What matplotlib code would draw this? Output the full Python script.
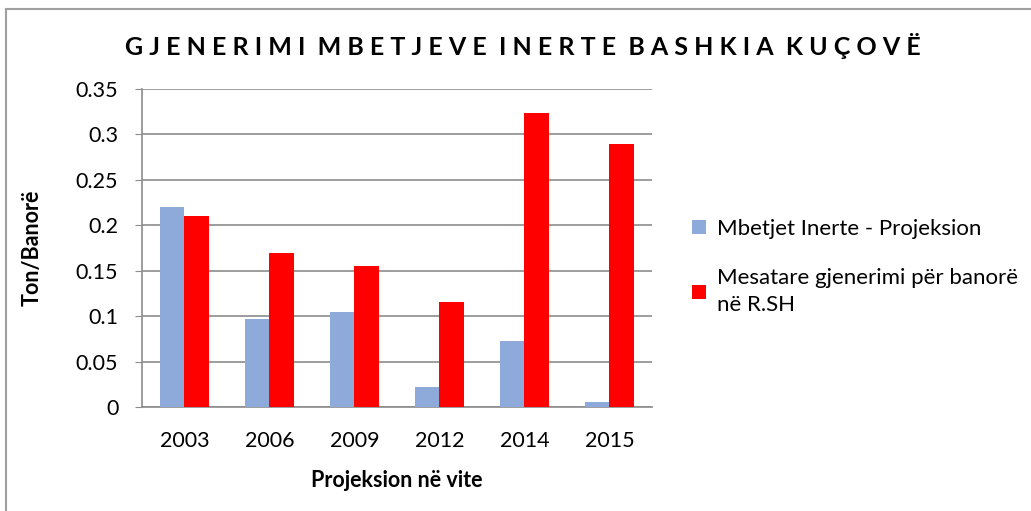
import numpy as np
import matplotlib.pyplot as plt
from matplotlib.lines import Line2D
from matplotlib.ticker import FuncFormatter

plt.rcParams['font.family'] = ['Lato', 'DejaVu Sans']

years = ['2003', '2006', '2009', '2012', '2014', '2015']
inerte = [0.220, 0.097, 0.105, 0.022, 0.073, 0.005]
mesatare = [0.210, 0.169, 0.155, 0.115, 0.323, 0.289]

names = ['Mbetjet Inerte - Projeksion', 'Mesatare gjenerimi për banorë\nnë R.SH']
colors = ['#8EAADB', '#FF0000']

fig = plt.figure(figsize=(10.31, 5.11), dpi=100)
ax = fig.add_axes([0.1377, 0.2035, 0.4946, 0.6225])

x = np.arange(len(years))
w = 1 / 3.5
ax.bar(x - w / 2, inerte, w, color=colors[0], label=names[0], zorder=3)
ax.bar(x + w / 2, mesatare, w, color=colors[1], label=names[1], zorder=3)

ax.set_xlim(-0.5, len(years) - 0.5)
ax.set_ylim(0, 0.35)
ax.set_yticks(np.arange(0, 0.351, 0.05))
ax.yaxis.set_major_formatter(FuncFormatter(lambda v, p: f'{v:.2f}'.rstrip('0').rstrip('.') if v else '0'))
ax.set_xticks(x)
ax.set_xticklabels(years)
ax.tick_params(axis='y', labelsize=15.5, length=5, color='#8C8C8C', pad=12)
ax.tick_params(axis='x', labelsize=15.5, length=0, pad=17)

ax.grid(axis='y', color='#8C8C8C', lw=1.2, zorder=0)
for s in ['top', 'right']:
    ax.spines[s].set_visible(False)
for s in ['left', 'bottom']:
    ax.spines[s].set_color('#8C8C8C')
    ax.spines[s].set_linewidth(1.2)

ax.set_ylabel('Ton/Banorë', fontsize=15.5, fontweight='bold', labelpad=24)
ax.set_xlabel('Projeksion në vite', fontsize=15.5, fontweight='bold', labelpad=14)

fig.text(0.507, 0.91, 'G J E N E R I M I  M B E T J E V E  I N E R T E  B A S H K I A  K U Ç O V Ë',
         ha='center', va='center', fontsize=18, fontweight='bold')

leg = ax.legend(loc='center left', bbox_to_anchor=(1.04, 0.44), frameon=False, fontsize=16,
                handlelength=0.6, handleheight=0.6, handletextpad=0.5, labelspacing=1.3)
for t in leg.get_texts():
    t.set_linespacing(1.45)

# chart area frame (top and left edges)
fig.add_artist(Line2D([6 / 1031, 6 / 1031], [0, 1 - 9 / 511], color='#A0A0A0', lw=1.5, transform=fig.transFigure))
fig.add_artist(Line2D([6 / 1031, 1], [1 - 9 / 511, 1 - 9 / 511], color='#A0A0A0', lw=1.5, transform=fig.transFigure))

fig.savefig('out.png', dpi=100)
